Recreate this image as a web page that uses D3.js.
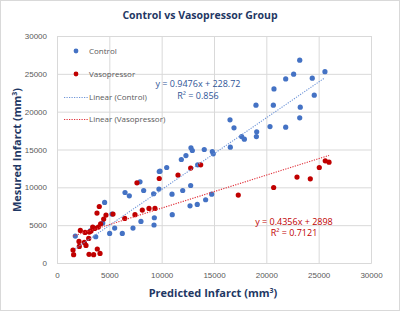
<!DOCTYPE html>
<html>
<head>
<meta charset="utf-8">
<script src="https://cdn.jsdelivr.net/npm/d3@7"></script>
<style>
  body { margin: 0; background: #fff; }
  svg { font-family: "Open Sans", "Noto Sans", sans-serif; }
  .tick text { fill: #595959; font-size: 8px; }
  .tick line { stroke: #d9d9d9; }
  .domain { stroke: #d9d9d9; }
  .legend text { fill: #595959; font-size: 8px; }
  .axis-title { fill: #1f3864; font-weight: bold; font-size: 11px; }
  .chart-title { fill: #1f3864; font-weight: bold; font-size: 10.5px; }
</style>
</head>
<body>
<svg id="chart" width="400" height="311"></svg>
<script>
const controlX = [1750, 3180, 3700, 4370, 4550, 5030, 5250, 5510, 6240, 6500, 6910, 7260, 7930, 8020, 8280,
  9230, 9270, 9300, 9740, 9770, 9840, 10480, 10990, 11010, 11880, 12010, 12320, 12710, 12770, 12800, 12930,
  13400, 13440, 14070, 14200, 14780, 14840, 14930, 16530, 16560, 16910, 17640, 17900, 19010, 19050, 19080,
  20350, 20670, 20730, 21850, 21850, 22610, 23190, 23190, 23240, 24390, 24580, 25600]
const controlY = [3560, 4260, 3470, 5280, 8000, 3910, 6470, 4620, 3910, 9320, 8880, 4620, 10730, 5490, 9580,
  9150, 5020, 5980, 9770, 12090, 12140, 12620, 9100, 6380, 13680, 9580, 14200, 7560, 10240, 15220, 14870,
  7740, 12980, 15000, 8360, 9100, 14730, 14430, 18920, 15310, 17860, 16710, 16370, 20860, 16710, 17330,
  18030, 20860, 23000, 24330, 17950, 24950, 26800, 19180, 20590, 24420, 22180, 25290]

const vasoX = [1530, 1590, 2100, 2130, 2230, 2610, 2680, 2770, 3030, 3060, 3090, 3250, 3410, 3500, 3600,
  3820, 3850, 3950, 4040, 4110, 4170, 4460, 4680, 5350, 6470, 7450, 7640, 8150, 8790, 9360, 9770, 11560,
  12770, 13730, 17320, 20700, 22930, 24200, 25060, 25630, 25990]
const vasoY = [1720, 1100, 2850, 2190, 4300, 2720, 4040, 2320, 3250, 1140, 4090, 4220, 4750, 1100, 4570,
  6600, 1850, 4750, 7470, 1270, 5190, 5810, 6340, 6470, 5890, 6380, 10600, 7000, 7210, 7210, 11170, 11620,
  12540, 12980, 8980, 9980, 11350, 11130, 12620, 13500, 13330]

const axisTicks = [0, 5000, 10000, 15000, 20000, 25000, 30000]
const fits = [
  { name: "Control", slope: 0.9476, icept: 228.72, eq: "y = 0.9476x + 228.72", r2: "R² = 0.856" },
  { name: "Vasopressor", slope: 0.4356, icept: 2898, eq: "y = 0.4356x + 2898", r2: "R² = 0.7121" }
]

const blue = "#4472c4"
const red = "#c00000"

const svg = d3.select("#chart")

svg.append("rect")
  .attr("x", 0.5).attr("y", 0.5)
  .attr("width", 399).attr("height", 310)
  .attr("fill", "#fff").attr("stroke", "#d9d9d9")

const x = d3.scaleLinear().domain([0, 30000]).range([57, 371])
const y = d3.scaleLinear().domain([0, 30000]).range([263, 36])

const xAxis = d3.axisBottom(x).tickValues(axisTicks).tickFormat(d3.format("d"))
  .tickSize(-(263 - 36)).tickPadding(9)
svg.append("g")
  .attr("transform", "translate(0,263)")
  .call(xAxis)
  .call(g => g.selectAll(".tick text").attr("dy", "0.71em"))

const yAxis = d3.axisLeft(y).tickValues(axisTicks).tickFormat(d3.format("d"))
  .tickSize(-(371 - 57)).tickPadding(10)
svg.append("g")
  .attr("transform", "translate(57,0)")
  .call(yAxis)

// trendlines, over each series' x range
function trendline(xs, fit, color) {
  const x0 = d3.min(xs), x1 = d3.max(xs)
  svg.append("line")
    .attr("x1", x(x0)).attr("y1", y(fit.slope * x0 + fit.icept))
    .attr("x2", x(x1)).attr("y2", y(fit.slope * x1 + fit.icept))
    .attr("stroke", color)
    .attr("stroke-width", 1.1)
    .attr("stroke-dasharray", "1.2,1.3")
}

function dots(xs, ys, color) {
  svg.append("g").selectAll("circle")
    .data(xs.map((d, i) => [d, ys[i]]))
    .enter()
    .append("circle")
      .attr("cx", d => x(d[0]))
      .attr("cy", d => y(d[1]))
      .attr("r", 2.6)
      .attr("fill", color)
}

dots(controlX, controlY, blue)
dots(vasoX, vasoY, red)
trendline(controlX, fits[0], "#6f95d8")
trendline(vasoX, fits[1], "#e0303a")

// equation labels
const eqLabels = [
  { fit: fits[0], cx: 198, cy: 84, color: "#2f5597" },
  { fit: fits[1], cx: 294, cy: 221.5, color: "#c00000" }
]
eqLabels.forEach(l => {
  svg.append("text")
    .attr("x", l.cx).attr("y", l.cy).attr("dy", "0.35em")
    .attr("text-anchor", "middle")
    .attr("fill", l.color).attr("font-size", "9px")
    .text(l.fit.eq)
  svg.append("text")
    .attr("x", l.cx).attr("y", l.cy + 11.5).attr("dy", "0.35em")
    .attr("text-anchor", "middle")
    .attr("fill", l.color).attr("font-size", "9px")
    .text(l.fit.r2)
})

// legend
const legend = svg.append("g").attr("class", "legend")
const legendItems = [
  { label: "Control", type: "dot", color: blue, y: 51 },
  { label: "Vasopressor", type: "dot", color: red, y: 74 },
  { label: "Linear (Control)", type: "line", color: "#6f95d8", y: 97.5 },
  { label: "Linear (Vasopressor)", type: "line", color: "#e0303a", y: 119.5 }
]
legendItems.forEach(d => {
  if (d.type == "dot") {
    legend.append("circle").attr("cx", 76).attr("cy", d.y).attr("r", 2.4).attr("fill", d.color)
  } else {
    legend.append("line")
      .attr("x1", 64).attr("x2", 88).attr("y1", d.y).attr("y2", d.y)
      .attr("stroke", d.color).attr("stroke-width", 1.1).attr("stroke-dasharray", "1.2,1.3")
  }
  legend.append("text")
    .attr("x", 89).attr("y", d.y).attr("dy", "0.35em")
    .text(d.label)
})

// titles
svg.append("text")
  .attr("class", "chart-title")
  .attr("x", 200).attr("y", 15).attr("dy", "0.35em")
  .attr("text-anchor", "middle")
  .text("Control vs Vasopressor Group")

const xt = svg.append("text")
  .attr("class", "axis-title")
  .attr("x", 213).attr("y", 293).attr("dy", "0.35em")
  .attr("text-anchor", "middle")
xt.append("tspan").text("Predicted Infarct (mm")
xt.append("tspan").attr("baseline-shift", "super").attr("font-size", "7px").text("3")
xt.append("tspan").text(")")

const yt = svg.append("text")
  .attr("class", "axis-title")
  .attr("transform", "translate(17,150) rotate(-90)")
  .attr("dy", "0.35em")
  .attr("text-anchor", "middle")
yt.append("tspan").text("Mesured Infarct (mm")
yt.append("tspan").attr("baseline-shift", "super").attr("font-size", "7px").text("3")
yt.append("tspan").text(")")
</script>
</body>
</html>
